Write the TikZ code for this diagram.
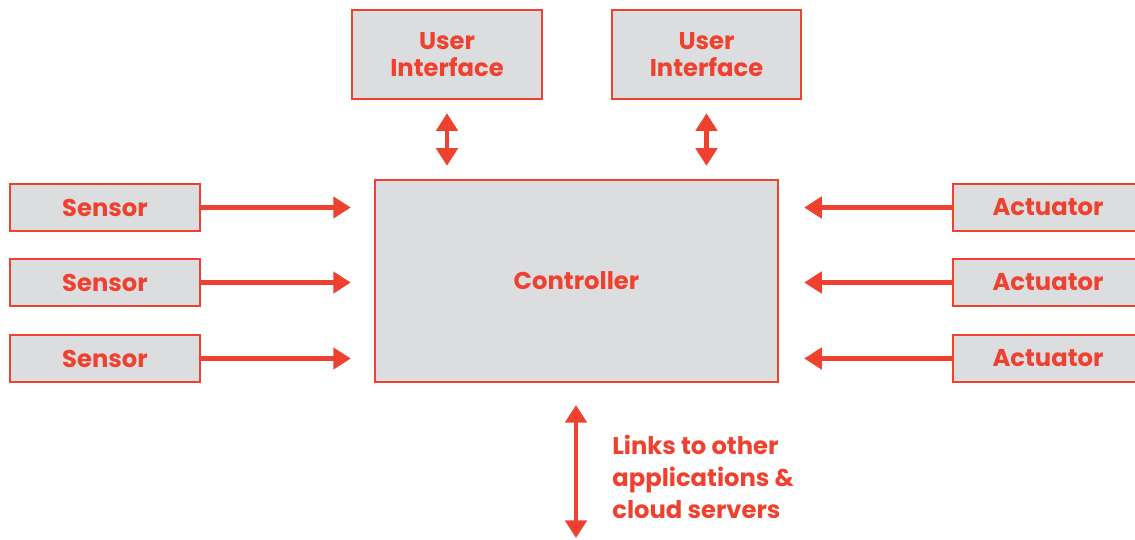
\documentclass[tikz,border=0pt]{standalone}
\usepackage{fontspec}
\setmainfont{Poppins}
\usepackage{xcolor}
\usepackage{tikz}
\usetikzlibrary{positioning,calc,arrows.meta}
\definecolor{tomato}{HTML}{EE4130}
\definecolor{boxgray}{HTML}{DCDDDE}

\begin{document}
\begin{tikzpicture}[x=0.02cm,y=-0.02cm,
  blk/.style={draw=tomato,fill=boxgray,line width=1.4pt,text=tomato,font=\fontsize{13.8}{15.4}\selectfont\bfseries,align=center,inner sep=0pt},
  small/.style={blk,minimum width=3.8cm,minimum height=0.94cm},
  link/.style={draw=tomato,line width=2.8pt,-{Triangle[length=10pt,width=12pt]}},
  twoway/.style={link,{Triangle[length=10pt,width=12pt]}-{Triangle[length=10pt,width=12pt]}}]
\useasboundingbox (0,0) rectangle (1135,539);

\node[blk,minimum width=8.06cm,minimum height=4.04cm](ctrl) at (576.5,281) {Controller};
\node[blk,minimum width=3.8cm,minimum height=1.78cm](ui1) at (447,54.5) {User\\Interface};
\node[blk,minimum width=3.78cm,minimum height=1.78cm](ui2) at (706.5,54.5) {User\\Interface};

\foreach\n/\y in {1/207.5,2/282.5,3/358.5}{
  \node[small](s\n) at (105,\y) {Sensor};
  \node[small](a\n) at (1048,\y) {Actuator};
  \draw[link,shorten >=0.46cm] (s\n.east) -- (s\n.east -| ctrl.west);
  \draw[link,shorten >=0.5cm] (a\n.west) -- (a\n.west -| ctrl.east);
}

\draw[twoway,shorten <=0.26cm,shorten >=0.26cm] (ui1.south) -- (ui1.south |- ctrl.north);
\draw[twoway,shorten <=0.26cm,shorten >=0.26cm] (ui2.south) -- (ui2.south |- ctrl.north);

\coordinate (top) at (576,405);
\coordinate (bot) at (576,538);
\draw[twoway] (top) -- (bot);
\node[anchor=west,text=tomato,font=\fontsize{13.8}{18.2}\selectfont\bfseries,align=left,inner sep=0pt](links) at (612,477) {Links to other\\applications \&\\cloud servers};
\end{tikzpicture}
\end{document}
